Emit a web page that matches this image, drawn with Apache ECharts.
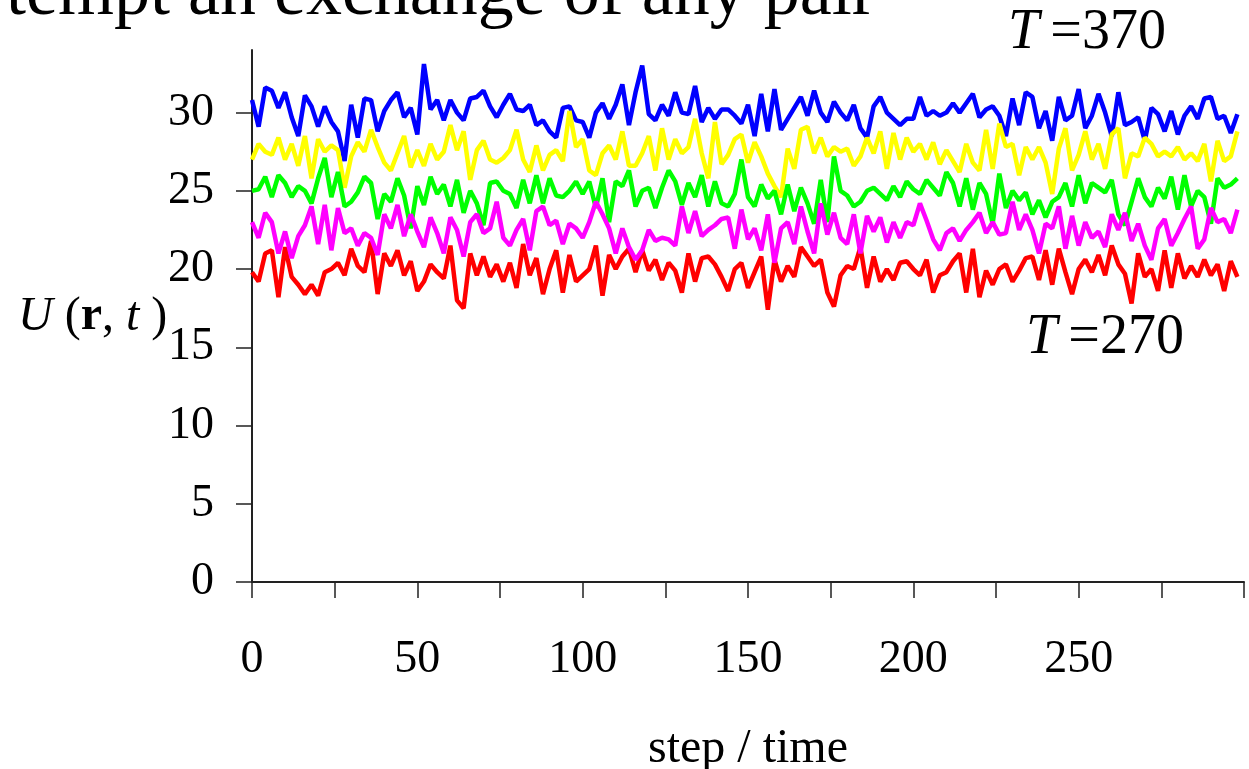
<!DOCTYPE html>
<html>
<head>
<meta charset="utf-8">
<title>U(r, t) vs step</title>
<script src="https://cdn.jsdelivr.net/npm/echarts@6.0.0/dist/echarts.min.js"></script>
<style>
  html, body { margin: 0; padding: 0; background: #fff; }
  #chart { width: 1249px; height: 769px; }
</style>
</head>
<body>
<div id="chart"></div>
<script>
// one sample every 2 steps
const STEP = 2;

const xTickLabels = [0, 50, 100, 150, 200, 250];
const yTickLabels = [0, 5, 10, 15, 20, 25, 30];

// T = 370 (top)
const blueU = [
  30.8, 29.1, 31.6, 31.4, 30.3, 31.3, 29.7, 28.5, 31.1, 30.4, 29.1, 30.4, 29.4, 28.8, 26.9, 30.5, 28.4, 30.9, 30.8, 28.8,
  30.1, 30.8, 31.3, 29.7, 30.3, 28.6, 33.1, 30.2, 30.8, 29.5, 30.8, 30.0, 29.5, 30.9, 31.0, 31.4, 30.4, 29.7, 30.5, 31.2,
  30.2, 30.1, 30.5, 29.2, 29.5, 28.8, 28.4, 30.3, 30.4, 29.5,
  29.4, 28.4, 30.0, 30.6, 29.6, 30.5, 31.8, 29.2, 31.3, 33.0, 29.9, 29.5, 30.5, 29.8, 31.3, 30.0, 29.9, 31.7, 29.4, 30.3,
  29.6, 30.2, 30.2, 29.8, 29.3, 30.5, 28.5, 31.2, 28.8, 31.5, 28.9, 29.6, 30.3, 31.0, 29.8, 31.4, 30.0, 29.4, 30.7, 30.0,
  29.5, 30.5, 29.0, 28.4, 30.4, 31.0, 30.0, 29.6, 29.2, 29.6,
  29.6, 31.0, 29.8, 30.1, 29.8, 30.0, 30.6, 30.0, 30.6, 31.2, 29.7, 30.2, 30.4, 29.8, 28.5, 30.9, 29.2, 31.3, 31.0, 29.0,
  30.1, 28.2, 31.0, 29.5, 29.8, 31.5, 29.0, 29.8, 31.2, 30.0, 28.5, 31.3, 29.2, 29.4, 29.7, 28.2, 30.3, 29.9, 28.8, 30.1,
  28.6, 29.8, 30.4, 29.6, 30.9, 31.0, 29.6, 29.8, 28.7, 29.9
];

const yellowU = [
  27.0, 28.0, 27.5, 27.3, 28.4, 27.0, 28.0, 26.6, 28.5, 25.8, 28.3, 27.5, 27.9, 27.6, 25.2, 27.2, 28.1, 27.5, 28.9, 27.8,
  26.8, 26.3, 27.4, 28.5, 26.5, 27.6, 26.6, 28.0, 27.0, 27.5, 29.2, 27.6, 28.8, 25.7, 27.6, 28.2, 27.0, 26.8, 27.1, 27.6,
  28.9, 27.0, 26.2, 27.9, 26.3, 27.3, 27.6, 26.9, 30.1, 27.8,
  28.3, 26.3, 26.0, 27.4, 27.9, 27.0, 28.8, 26.6, 26.6, 27.4, 28.5, 26.3, 29.0, 27.0, 28.3, 27.4, 27.8, 29.6, 27.4, 25.8,
  29.4, 26.7, 27.3, 28.3, 28.6, 26.8, 28.1, 27.2, 26.1, 25.3, 24.6, 27.7, 26.4, 28.9, 29.1, 27.4, 28.4, 27.2, 27.8, 27.5,
  27.7, 26.6, 27.2, 28.4, 27.4, 28.8, 26.4, 28.7, 27.0, 28.4,
  27.5, 28.0, 27.0, 28.1, 26.7, 27.6, 26.9, 26.2, 28.0, 26.8, 26.3, 28.9, 26.4, 29.3, 27.8, 28.0, 26.0, 27.8, 27.0, 27.8,
  26.8, 24.8, 27.7, 29.0, 26.3, 27.3, 28.8, 27.0, 28.0, 26.4, 28.6, 29.0, 25.8, 27.4, 27.2, 28.4, 28.0, 27.2, 27.5, 27.2,
  27.8, 27.0, 27.4, 26.9, 28.0, 25.6, 28.2, 26.9, 27.2, 28.8
];

const greenU = [
  25.0, 25.1, 25.9, 24.6, 26.0, 25.5, 24.6, 25.3, 25.0, 24.2, 25.8, 27.1, 24.6, 26.2, 24.0, 24.3, 24.9, 25.9, 25.5, 23.2,
  24.8, 24.3, 25.8, 24.7, 22.6, 25.3, 24.1, 25.9, 24.8, 25.4, 24.0, 25.7, 23.6, 25.0, 24.2, 22.8, 25.5, 25.6, 25.0, 24.8,
  23.9, 25.7, 24.2, 26.0, 24.2, 25.8, 24.7, 24.6, 25.0, 25.6,
  24.8, 25.6, 23.9, 25.8, 23.0, 25.6, 25.3, 26.3, 24.0, 25.0, 25.2, 23.9, 25.2, 26.3, 25.6, 24.1, 25.5, 24.6, 26.0, 24.0,
  25.6, 24.2, 24.0, 24.8, 27.0, 24.6, 24.0, 25.4, 24.5, 25.0, 23.5, 25.4, 23.7, 25.2, 24.2, 22.9, 25.7, 23.0, 27.2, 25.0,
  24.7, 24.0, 24.3, 25.0, 25.2, 24.8, 24.4, 25.3, 24.6, 25.6,
  25.1, 24.8, 25.7, 25.2, 24.7, 26.2, 25.5, 24.0, 25.8, 23.8, 25.5, 24.8, 22.9, 26.1, 23.9, 25.0, 24.4, 24.9, 23.5, 24.4,
  23.3, 24.3, 24.6, 25.5, 24.0, 26.0, 24.2, 25.5, 25.2, 24.9, 25.7, 23.5, 22.8, 24.3, 25.8, 24.6, 24.0, 25.2, 24.5, 25.9,
  23.8, 26.0, 24.0, 25.0, 24.6, 22.9, 25.8, 25.2, 25.4, 25.8
];

const magentaU = [
  23.0, 22.0, 23.6, 23.0, 21.0, 22.4, 20.7, 22.1, 22.8, 24.0, 21.6, 24.1, 21.2, 23.9, 22.3, 22.6, 21.5, 22.3, 22.0, 20.9,
  23.5, 22.6, 24.1, 22.1, 23.5, 22.4, 21.4, 23.3, 22.3, 21.0, 23.3, 22.5, 20.8, 23.0, 23.5, 22.3, 22.6, 24.3, 22.0, 21.5,
  22.5, 23.2, 21.2, 23.7, 24.0, 22.8, 23.1, 21.6, 22.9, 22.6,
  22.0, 23.0, 24.3, 23.5, 22.6, 21.0, 22.6, 21.4, 20.6, 21.2, 22.5, 21.8, 22.0, 21.9, 21.5, 24.0, 22.3, 23.7, 22.1, 22.5,
  22.8, 23.2, 23.3, 21.3, 23.8, 21.9, 22.6, 21.2, 23.5, 20.4, 22.6, 23.0, 21.6, 24.0, 22.4, 21.0, 24.2, 22.2, 23.6, 22.0,
  21.6, 23.5, 21.0, 23.4, 22.4, 23.3, 21.7, 23.0, 22.0, 23.0,
  22.8, 24.2, 23.1, 21.9, 21.2, 22.3, 22.6, 21.8, 22.5, 23.0, 23.6, 22.3, 23.0, 22.2, 22.3, 24.3, 22.5, 23.5, 22.5, 21.0,
  22.9, 22.6, 24.0, 21.3, 23.4, 21.5, 23.0, 22.0, 22.4, 21.4, 23.5, 22.5, 23.6, 21.8, 22.9, 21.5, 20.6, 22.6, 23.2, 21.5,
  22.3, 23.2, 24.0, 21.3, 21.9, 23.9, 23.0, 23.2, 22.3, 23.8
];

// T = 270 (bottom)
const redU = [
  19.8, 19.2, 21.0, 21.2, 18.2, 21.4, 19.5, 19.0, 18.4, 19.0, 18.3, 19.8, 20.0, 20.4, 19.6, 21.3, 20.2, 19.8, 21.8, 18.4,
  21.0, 20.2, 21.2, 19.6, 20.5, 18.6, 19.2, 20.3, 19.8, 19.4, 21.5, 18.0, 17.5, 21.0, 19.6, 20.8, 19.5, 20.3, 19.2, 20.4,
  18.8, 21.6, 19.6, 20.7, 18.4, 20.0, 21.2, 18.5, 20.9, 19.2,
  19.6, 20.0, 21.5, 18.3, 20.9, 20.0, 20.8, 21.3, 19.8, 21.2, 19.9, 20.6, 19.3, 20.4, 19.9, 18.5, 21.0, 19.2, 20.7, 20.8,
  20.3, 19.5, 18.6, 20.0, 20.4, 18.8, 19.8, 20.8, 17.4, 20.6, 19.2, 20.2, 19.5, 21.4, 20.8, 20.2, 20.6, 18.5, 17.6, 19.6,
  20.2, 20.0, 21.4, 18.8, 20.8, 19.2, 20.0, 19.3, 20.4, 20.5,
  20.0, 19.6, 20.6, 18.5, 19.6, 19.8, 20.5, 21.0, 18.5, 21.3, 18.2, 19.9, 19.0, 20.0, 20.3, 19.2, 19.9, 20.7, 20.8, 19.3,
  21.2, 19.0, 21.3, 19.8, 18.4, 20.0, 20.6, 19.8, 20.9, 19.6, 21.5, 20.3, 19.7, 17.8, 21.0, 19.5, 20.0, 18.6, 21.2, 18.8,
  21.0, 19.4, 20.2, 19.5, 20.6, 19.6, 20.3, 18.6, 20.5, 19.5
];

const FONT = "'Liberation Serif', 'Times New Roman', serif";

function toPairs(values) {
  return values.map((v, i) => [i * STEP, v]);
}

function lineSeries(name, values, color) {
  return {
    name: name,
    type: 'line',
    data: toPairs(values),
    showSymbol: false,
    symbol: 'none',
    lineStyle: { color: color, width: 4.5 },
    emphasis: { disabled: true }
  };
}

const chart = echarts.init(document.getElementById('chart'));

const axisColor = '#222';

chart.setOption({
  animation: false,
  backgroundColor: '#fff',
  // v6 would shrink the grid to fit the axis name, keep it fixed
  grid: { left: 252, right: 5, top: 50, bottom: 187, outerBoundsMode: 'none' },
  xAxis: {
    type: 'value',
    min: 0,
    max: 300,
    interval: 25,
    name: 'step / time',
    nameLocation: 'middle',
    nameGap: 143,
    nameTextStyle: { fontFamily: FONT, fontSize: 48, color: '#000' },
    axisLine: { show: true, onZero: false, lineStyle: { color: axisColor, width: 2 } },
    axisTick: { show: true, inside: false, length: 16, lineStyle: { color: axisColor, width: 1.5 } },
    axisLabel: {
      customValues: xTickLabels,
      margin: 55,
      fontFamily: FONT,
      fontSize: 46,
      color: '#000'
    },
    splitLine: { show: false }
  },
  yAxis: {
    type: 'value',
    min: 0,
    max: 34,
    interval: 5,
    axisLine: { show: true, onZero: false, lineStyle: { color: axisColor, width: 2 } },
    axisTick: { show: true, customValues: yTickLabels, length: 16, lineStyle: { color: axisColor, width: 1.5 } },
    axisLabel: {
      customValues: yTickLabels,
      margin: 38,
      fontFamily: FONT,
      fontSize: 46,
      color: '#000'
    },
    splitLine: { show: false }
  },
  graphic: [
    {
      // slide text cut off at the top
      type: 'text',
      left: 6,
      top: -41,
      style: { text: 'tempt an exchange of any pair', font: '72px ' + FONT, fill: '#000' }
    },
    {
      type: 'text',
      left: 1008,
      top: 5,
      style: {
        text: '{i|T}\u2009=370',
        font: '56px ' + FONT,
        fill: '#000',
        rich: { i: { fontStyle: 'italic', fontFamily: FONT, fontSize: 56 } }
      }
    },
    {
      type: 'text',
      left: 1026,
      top: 310,
      style: {
        text: '{i|T}\u2009=270',
        font: '56px ' + FONT,
        fill: '#000',
        rich: { i: { fontStyle: 'italic', fontFamily: FONT, fontSize: 56 } }
      }
    },
    {
      type: 'text',
      left: 18,
      top: 293,
      style: {
        text: '{i|U} ({b|r}, {i|t} )',
        font: '48px ' + FONT,
        fill: '#000',
        rich: {
          i: { fontStyle: 'italic', fontFamily: FONT, fontSize: 48 },
          b: { fontWeight: 'bold', fontFamily: FONT, fontSize: 48 }
        }
      }
    }
  ],
  series: [
    lineSeries('T=270', redU, '#ff0000'),
    lineSeries('blue', blueU, '#0000ff'),
    lineSeries('yellow', yellowU, '#ffff00'),
    lineSeries('green', greenU, '#00ff00'),
    lineSeries('magenta', magentaU, '#ff00ff')
  ]
});
</script>
</body>
</html>
